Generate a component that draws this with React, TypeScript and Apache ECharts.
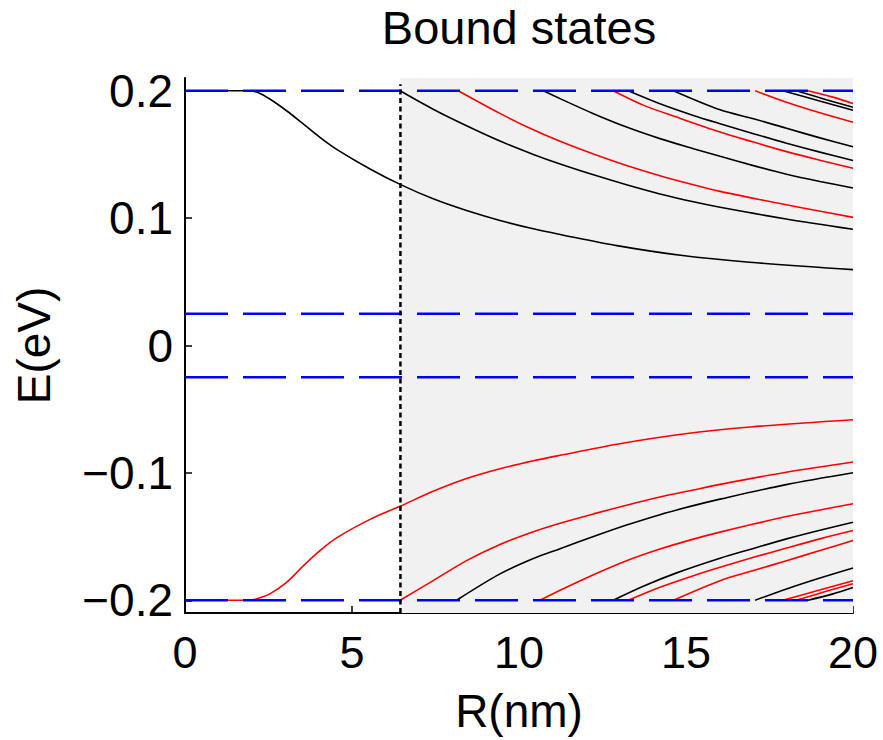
import React, { useEffect, useRef } from "react";
import * as echarts from "echarts";

// axis ticks
const xTicks = [0, 5, 10, 15, 20];
const yTicks = [-0.2, -0.1, 0, 0.1, 0.2];
// band edges (blue dashed) and well radius (black dotted)
const bandEdges = [0.2, 0.025, -0.025, -0.2];
const wellRadius = 6.45;

// upper (positive energy) states: [R, E]
const upperBlack1 = [[0, 0.2], [1.9, 0.2], [2.2, 0.1985], [2.54, 0.1935], [3.04, 0.1843], [3.54, 0.174], [4.04, 0.1634], [4.54, 0.154], [5.54, 0.1386], [6.44, 0.1265], [7.43, 0.1152], [8.43, 0.106], [9.43, 0.0982], [10.43, 0.0916], [11.23, 0.0872], [12.93, 0.0784], [14.9, 0.0706], [16.9, 0.0654], [20, 0.0596]];
const upperBlack2 = [[6.44, 0.2], [7.43, 0.1855], [8.43, 0.1725], [9.43, 0.1605], [10.43, 0.15], [11.23, 0.1425], [12.23, 0.134], [13.22, 0.1262], [14.22, 0.119], [15.22, 0.1128], [16.02, 0.1085], [18, 0.0993], [20, 0.0912]];
const upperRed1 = [[8.18, 0.2], [9.43, 0.1822], [10.43, 0.1693], [11.23, 0.1603], [12.23, 0.1503], [13.22, 0.1413], [14.22, 0.1333], [15.22, 0.1262], [16.02, 0.121], [17.2, 0.1146], [18.5, 0.108], [20, 0.1006]];
const upperBlack3 = [[10.73, 0.2], [11.23, 0.1938], [12.23, 0.182], [13.22, 0.1715], [14.22, 0.1624], [15.22, 0.1545], [16.02, 0.1485], [17.02, 0.1412], [18.01, 0.1345], [19.01, 0.1288], [20, 0.1237]];
const upperRed2 = [[12.82, 0.2], [13.72, 0.1887], [14.72, 0.1793], [16.02, 0.1676], [17.02, 0.1597], [18.01, 0.1522], [19.01, 0.1455], [20, 0.1392]];
const upperBlack4 = [[13.27, 0.2], [14.22, 0.1898], [15.22, 0.1806], [16.02, 0.1741], [17.02, 0.1663], [18.01, 0.1588], [19.01, 0.1518], [20, 0.1453]];
const upperBlack5 = [[14.62, 0.2], [16.02, 0.185], [17.02, 0.178], [18.01, 0.1705], [19.01, 0.163], [20, 0.156]];
const upperRed3 = [[17.07, 0.2], [18.01, 0.191], [19.01, 0.1827], [20, 0.1753]];
const upperBlack6 = [[17.9, 0.2], [19, 0.192], [20, 0.1846]];
const upperBlack7 = [[18.3, 0.2], [19.2, 0.193], [20, 0.187]];
const upperRed4 = [[18.65, 0.2], [19.4, 0.195], [20, 0.19]];

// lower (negative energy) states: [R, E]
const lowerRed1 = [[0, -0.2], [1.9, -0.2], [2.2, -0.1985], [2.54, -0.195], [3.04, -0.186], [3.54, -0.173], [4.04, -0.161], [4.54, -0.151], [5.54, -0.1365], [6.44, -0.1262], [7.43, -0.1145], [8.43, -0.1045], [9.43, -0.0968], [10.43, -0.0905], [11.23, -0.0862], [12.93, -0.0775], [14.92, -0.0695], [16.92, -0.064], [20, -0.0583]];
const lowerRed2 = [[6.44, -0.2], [7.43, -0.1846], [8.43, -0.1689], [9.43, -0.1562], [10.43, -0.1462], [11.23, -0.1395], [12.23, -0.1322], [13.22, -0.1254], [14.22, -0.119], [15.22, -0.1134], [16.02, -0.109], [18, -0.0995], [20, -0.0915]];
const lowerBlack1 = [[8.13, -0.2], [9.43, -0.1793], [10.43, -0.1672], [11.23, -0.1595], [12.23, -0.15], [13.22, -0.141], [14.22, -0.1328], [15.22, -0.1257], [16.02, -0.1206], [18, -0.1092], [20, -0.0999]];
const lowerRed3 = [[10.63, -0.2], [11.23, -0.1922], [12.23, -0.18], [13.22, -0.169], [14.22, -0.1598], [15.22, -0.152], [16.02, -0.1465], [17.02, -0.1402], [18.01, -0.1343], [19.01, -0.1291], [20, -0.1243]];
const lowerBlack2 = [[12.82, -0.2], [13.72, -0.189], [14.72, -0.1785], [16.02, -0.167], [17.02, -0.1593], [18.01, -0.1518], [19.01, -0.145], [20, -0.1388]];
const lowerRed4 = [[13.27, -0.2], [14.22, -0.1898], [15.22, -0.1807], [16.02, -0.1741], [17.02, -0.1663], [18.01, -0.159], [19.01, -0.1518], [20, -0.1453]];
const lowerRed5 = [[14.62, -0.2], [16.02, -0.1846], [17.02, -0.1767], [18.01, -0.1689], [19.01, -0.161], [20, -0.153]];
const lowerBlack3 = [[17.07, -0.2], [18.01, -0.1911], [19.01, -0.1825], [20, -0.1746]];
const lowerRed6 = [[17.9, -0.2], [19, -0.192], [20, -0.1846]];
const lowerRed7 = [[18.3, -0.2], [19.2, -0.193], [20, -0.187]];
const lowerBlack4 = [[18.65, -0.2], [19.4, -0.195], [20, -0.19]];

const blackCurves = [upperBlack1, upperBlack2, upperBlack3, upperBlack4, upperBlack5, upperBlack6, upperBlack7, lowerBlack1, lowerBlack2, lowerBlack3, lowerBlack4];
const redCurves = [upperRed1, upperRed2, upperRed3, upperRed4, lowerRed1, lowerRed2, lowerRed3, lowerRed4, lowerRed5, lowerRed6, lowerRed7];

const FONT = "'Liberation Sans', Arial, Helvetica, sans-serif";

export default function App() {
  const ref = useRef<HTMLDivElement>(null);
  useEffect(() => {
    if (!ref.current) return;
    const chart = echarts.init(ref.current, null, { renderer: "svg" });
    const curve = (data: number[][], color: string) => ({
      type: "line",
      data,
      showSymbol: false,
      symbol: "none",
      smooth: 0.3,
      silent: true,
      z: 2,
      lineStyle: { color, width: 1.6 },
    });
    const series: any[] = [
      {
        type: "line",
        data: [],
        silent: true,
        z: 1,
        markArea: {
          silent: true,
          itemStyle: { color: "#f1f1f1" },
          data: [[{ xAxis: wellRadius }, { xAxis: 20 }]],
        },
      },
      ...blackCurves.map((d) => curve(d, "#000000")),
      ...redCurves.map((d) => curve(d, "#ff0000")),
      ...bandEdges.map((e) => ({
        type: "line",
        data: [[0, e], [20, e]],
        showSymbol: false,
        symbol: "none",
        silent: true,
        z: 3,
        lineStyle: { color: "#0000ff", width: 2.5, type: [43, 15] },
      })),
      {
        type: "line",
        data: [[wellRadius, -0.21], [wellRadius, 0.205]],
        showSymbol: false,
        symbol: "none",
        silent: true,
        z: 4,
        lineStyle: { color: "#000000", width: 2.5, type: [5, 3.5] },
      },
    ];
    chart.setOption({
      animation: false,
      backgroundColor: "#ffffff",
      grid: { left: 185, right: 30, top: 78, bottom: 127, containLabel: false },
      graphic: [
        {
          type: "text",
          x: 519,
          y: 27,
          style: {
            text: "Bound states",
            fill: "#000",
            font: `47px ${FONT}`,
            textAlign: "center",
            textVerticalAlign: "middle",
          },
        },
      ],
      xAxis: {
        type: "value",
        min: 0,
        max: 20,
        interval: 5,
        name: "R(nm)",
        nameLocation: "middle",
        nameGap: 75,
        nameTextStyle: { fontSize: 46, fontFamily: FONT, color: "#000" },
        axisLine: { onZero: false, lineStyle: { color: "#000", width: 2 } },
        axisTick: { inside: true, length: 7, lineStyle: { color: "#000", width: 1.5 } },
        axisLabel: { fontSize: 45, fontFamily: FONT, color: "#000", margin: 17 },
        splitLine: { show: false },
      },
      yAxis: {
        type: "value",
        min: -0.21,
        max: 0.21,
        name: "E(eV)",
        nameLocation: "middle",
        nameGap: 128,
        nameTextStyle: { fontSize: 46, fontFamily: FONT, color: "#000" },
        axisLine: { onZero: false, lineStyle: { color: "#000", width: 2 } },
        axisTick: { inside: true, length: 7, customValues: yTicks, lineStyle: { color: "#000", width: 1.5 } },
        axisLabel: {
          fontSize: 46,
          fontFamily: FONT,
          color: "#000",
          margin: 12,
          customValues: yTicks,
          formatter: (v: number) => {
            const s = Math.abs(v) < 1e-9 ? "0" : String(Math.abs(Math.round(v * 10) / 10));
            return v < -1e-9 ? "\u2212" + s : s;
          },
        },
        splitLine: { show: false },
      },
      series,
    });
    return () => chart.dispose();
  }, []);
  return (
    <div
      ref={ref}
      style={{ position: "fixed", left: 0, top: 0, width: 883, height: 740, background: "#fff" }}
    />
  );
}
